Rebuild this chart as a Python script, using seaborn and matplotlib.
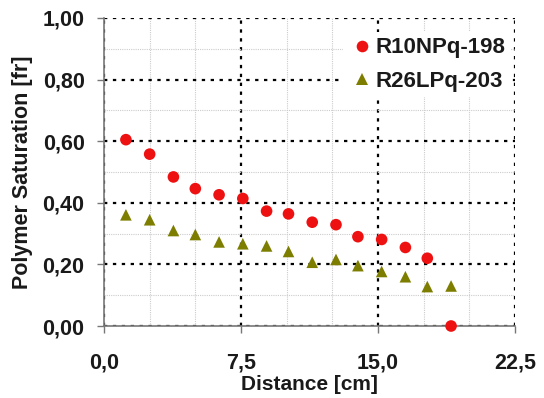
import matplotlib
matplotlib.use("Agg")
import matplotlib.pyplot as plt
import seaborn as sns
import pandas as pd
from matplotlib.ticker import MultipleLocator, FuncFormatter

distance = [1.2, 2.5, 3.8, 5.0, 6.3, 7.6, 8.9, 10.1, 11.4, 12.7, 13.9, 15.2, 16.5, 17.7, 19.0]
r10 = [0.605, 0.558, 0.484, 0.446, 0.426, 0.414, 0.373, 0.364, 0.337, 0.329, 0.290, 0.281, 0.255, 0.220, 0.0]
r26 = [0.361, 0.345, 0.310, 0.297, 0.273, 0.267, 0.260, 0.242, 0.207, 0.216, 0.196, 0.177, 0.160, 0.128, 0.130]
series_names = ["R10NPq-198", "R26LPq-203"]

df = pd.DataFrame({
    "Distance": distance * 2,
    "Saturation": r10 + r26,
    "Series": [series_names[0]] * len(distance) + [series_names[1]] * len(distance),
})

sns.set_theme(style="white")
plt.rcParams["font.family"] = ["Liberation Sans", "DejaVu Sans"]

fig = plt.figure(figsize=(5.44, 3.98), dpi=100)
ax = fig.add_axes([104 / 544, (398 - 326) / 398, 411 / 544, 308 / 398])

sns.scatterplot(data=df, x="Distance", y="Saturation", hue="Series", style="Series",
                palette={series_names[0]: "#ee1111", series_names[1]: "#7d7d00"},
                markers={series_names[0]: "o", series_names[1]: "^"},
                s=70, linewidth=0, ax=ax, zorder=5, clip_on=False)

ax.set_xlim(0, 22.5)
ax.set_ylim(0, 1.0)
ax.xaxis.set_major_locator(MultipleLocator(7.5))
ax.xaxis.set_minor_locator(MultipleLocator(2.5))
ax.yaxis.set_major_locator(MultipleLocator(0.2))
ax.yaxis.set_minor_locator(MultipleLocator(0.1))
ax.xaxis.set_major_formatter(FuncFormatter(lambda v, p: f"{v:.1f}".replace(".", ",")))
ax.yaxis.set_major_formatter(FuncFormatter(lambda v, p: f"{v:.2f}".replace(".", ",")))

ax.grid(which="major", color="black", linestyle=(0, (1.5, 2.5)), linewidth=1.6)
ax.grid(which="minor", color="#cccccc", linestyle=(0, (1, 1)), linewidth=0.8)
ax.set_axisbelow(True)

for s in ["top", "right"]:
    ax.spines[s].set_visible(False)
for s in ["left", "bottom"]:
    ax.spines[s].set_color("#777777")
    ax.spines[s].set_linewidth(1.2)

ax.tick_params(which="major", direction="out", length=5, width=1, color="#777777",
               labelsize=15.5, left=True, bottom=True)
ax.tick_params(which="minor", length=0)
ax.tick_params(axis="y", pad=9)
ax.tick_params(axis="x", pad=14)
for lab in ax.get_xticklabels() + ax.get_yticklabels():
    lab.set_fontweight("bold")
    lab.set_color("#1a1a1a")

ax.set_xlabel("Distance [cm]", fontsize=15, fontweight="bold", color="#1a1a1a", labelpad=1)
ax.set_ylabel("Polymer Saturation [fr]", fontsize=15.5, fontweight="bold", color="#1a1a1a", labelpad=7)

leg = ax.legend(loc="upper right", bbox_to_anchor=(0.99, 0.955), frameon=True, fontsize=16,
                handletextpad=0.0, labelspacing=0.55, borderaxespad=0.0, borderpad=0.25,
                markerscale=1.0, handlelength=1.2)
leg.get_frame().set_facecolor("white")
leg.get_frame().set_edgecolor("none")
leg.get_frame().set_alpha(1.0)
for t in leg.get_texts():
    t.set_color("#1a1a1a")
    t.set_fontweight("bold")
leg.set_zorder(10)

fig.savefig("out.png", dpi=100, facecolor="white")
